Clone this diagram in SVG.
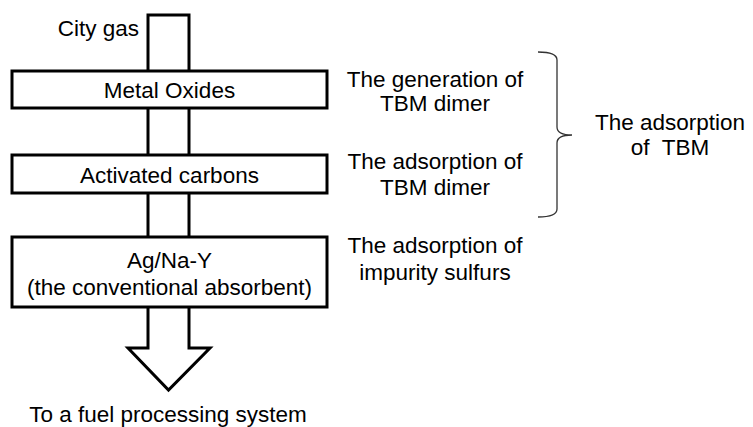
<svg xmlns="http://www.w3.org/2000/svg" width="753" height="427" viewBox="0 0 753 427">
<style>
text{font-family:"Liberation Sans",Arial,sans-serif;font-size:22.5px;fill:#000}
.box{fill:#fff;stroke:#000;stroke-width:3}
.pipe{fill:#fff;stroke:#000;stroke-width:3;stroke-linejoin:miter}
.brace{fill:none;stroke:#333;stroke-width:1.3}
.c{text-anchor:middle}
</style>
<rect width="753" height="427" fill="#fff"/>
<g id="connectors">
<polygon class="pipe" points="148,15 189,15 189,348 210,348 168.5,390 128,348 148,348"/>
</g>
<text x="139" y="36" text-anchor="end">City gas</text>
<g id="metal-oxides">
<rect class="box" x="12" y="71" width="315" height="37"/>
<text class="c" x="169.5" y="98">Metal Oxides</text>
</g>
<g id="activated-carbons">
<rect class="box" x="12" y="155" width="315" height="38"/>
<text class="c" x="169.5" y="183">Activated carbons</text>
</g>
<g id="agnay">
<rect class="box" x="12" y="237" width="315" height="70"/>
<text class="c" x="169.5" y="268">Ag/Na-Y</text>
<text class="c" x="169.5" y="295">(the conventional absorbent)</text>
</g>
<text class="c" x="168" y="422" font-size="23">To a fuel processing system</text>
<g id="labels">
<text class="c" x="435" y="87">The generation of</text>
<text class="c" x="435" y="111">TBM dimer</text>
<text class="c" x="435" y="169">The adsorption of</text>
<text class="c" x="435" y="195">TBM dimer</text>
<text class="c" x="435" y="253">The adsorption of</text>
<text class="c" x="435" y="280">impurity sulfurs</text>
</g>
<g id="brace">
<path class="brace" d="M538,52 Q557,52 557,60 L557,127 Q557,135 572,135 Q557,135 557,143 L557,209 Q557,217 538,217"/>
<text class="c" x="670" y="130">The adsorption</text>
<text class="c" x="670" y="155" xml:space="preserve">of  TBM</text>
</g>
</svg>
